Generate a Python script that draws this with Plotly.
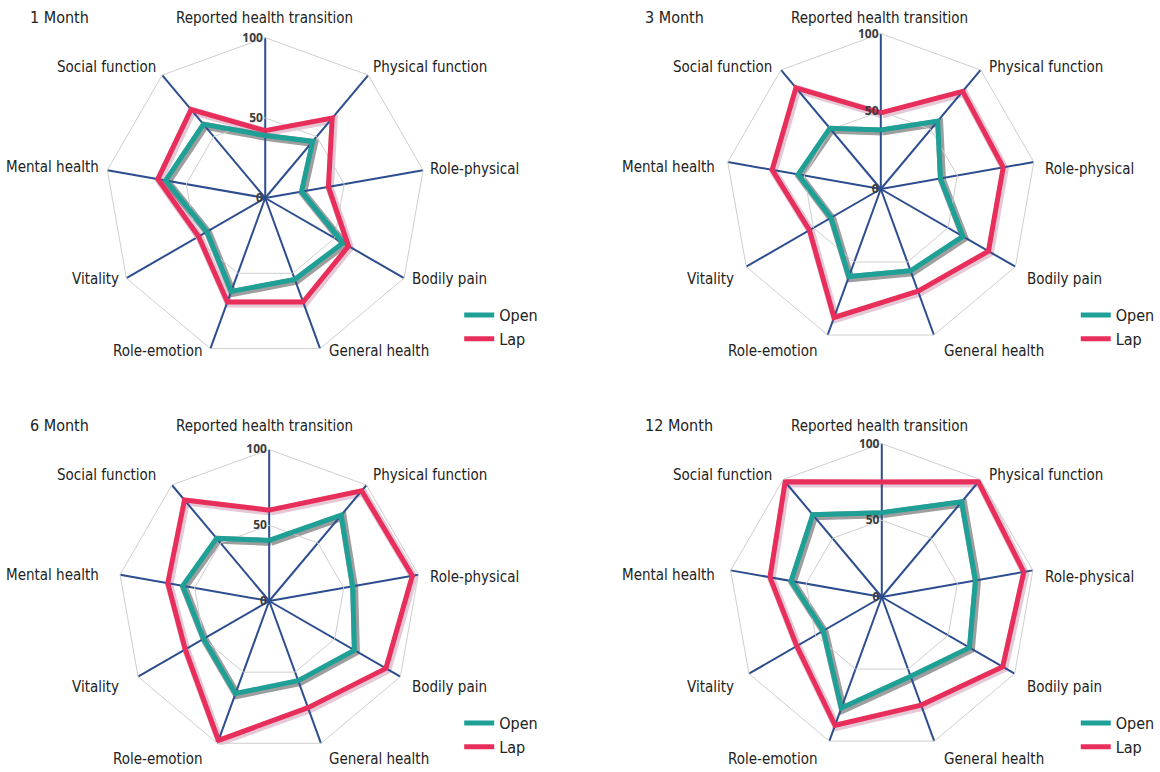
import plotly.graph_objects as go

# SF-36 domains, clockwise from the top
categories = ["Reported health transition", "Physical function", "Role-physical",
              "Bodily pain", "General health", "Role-emotion", "Vitality",
              "Mental health", "Social function"]

panel_titles = ["1 Month", "3 Month", "6 Month", "12 Month"]
series_names = ["Open", "Lap"]

open_1m = [39, 46, 23, 56, 54, 62, 42, 63, 60]
lap_1m = [42, 65, 40, 60, 69, 69, 48, 68, 72]
open_3m = [38, 57, 39, 61, 56, 60, 37, 54, 51]
lap_3m = [49, 82, 80, 80, 70, 88, 53, 71, 85]
open_6m = [40, 74, 56, 65, 56, 65, 50, 58, 54]
lap_6m = [60, 95, 96, 89, 75, 98, 64, 68, 87]
open_12m = [55, 81, 62, 66, 55, 77, 44, 60, 70]
lap_12m = [75, 98, 94, 91, 75, 89, 64, 74, 98]

radial_ticks = [0, 50, 100]

W, H = 1160, 772
FONT = "DejaVu Sans Condensed, Liberation Sans Narrow, sans-serif"
TEAL = "#1fa097"
RED = "#e82f5b"
SPOKE = "#2c4d8e"
GRID = "#cfcfcf"
TEXT = "#222222"

# panel geometry in pixels: centre x, centre y, outer radius
panels = [(268, 198, 162), (890, 189, 157), (272, 601, 153), (891, 597, 155)]
# drop-shadow offset in pixels
SHADOW_DX, SHADOW_DY = 1.5, 1.5
# legend anchor (left, top) in pixels for each panel
legend_pos = [(464, 298), (1087, 298), (464, 706), (1087, 706)]
# panel origin (left column / right column, top row / bottom row) for text
col_x = [0, 622]
row_y = [0, 408]
title_pos = (28, 18)
# domain label placement inside a panel cell: (x, y, xanchor)
label_place = [(267, 18, "center"), (375, 67, "left"), (432, 169, "left"),
               (414, 279, "left"), (330, 351, "left"), (206, 351, "right"),
               (122, 279, "right"), (102, 167, "right"), (160, 67, "right")]

data = [(open_1m, lap_1m), (open_3m, lap_3m), (open_6m, lap_6m), (open_12m, lap_12m)]


def closed(vals):
    return list(vals) + [vals[0]]


def domain(cx, cy, r):
    return dict(x=[(cx - r) / W, (cx + r) / W], y=[1 - (cy + r) / H, 1 - (cy - r) / H])


theta = closed(categories)
angular_common = dict(type="category", categoryarray=categories,
                      direction="clockwise", rotation=90)

fig = go.Figure()
layout = {}
n = len(panels)
for i, ((cx, cy, r), (op, lp)) in enumerate(zip(panels, data)):
    sid = "polar" if i == 0 else f"polar{i + 1}"      # shadow layer, drawn first
    pid = f"polar{i + 1 + n}"                          # main chart layer
    lid = "legend" if i == 0 else f"legend{i + 1}"

    for vals, color, name, shadow, sw in [
            (op, TEAL, series_names[0], "rgba(0,0,0,0.38)", 8),
            (lp, RED, series_names[1], "rgba(150,30,90,0.25)", 8)]:
        fig.add_trace(go.Scatterpolar(
            r=closed(vals), theta=theta, mode="lines", subplot=sid,
            line=dict(color=shadow, width=sw), showlegend=False, hoverinfo="skip"))
        fig.add_trace(go.Scatterpolar(
            r=closed(vals), theta=theta, mode="lines", subplot=pid, name=name,
            line=dict(color=color, width=5), legend=lid))

    layout[sid] = dict(
        domain=domain(cx + SHADOW_DX, cy + SHADOW_DY, r),
        gridshape="linear", bgcolor="rgba(0,0,0,0)",
        radialaxis=dict(range=[0, 100], visible=False),
        angularaxis=dict(visible=False, **angular_common),
    )
    layout[pid] = dict(
        domain=domain(cx, cy, r),
        gridshape="linear", bgcolor="rgba(0,0,0,0)",
        radialaxis=dict(range=[0, 100], tickvals=radial_ticks, angle=90,
                        tickangle=90, ticksuffix="\u00a0" * 6,
                        side="counterclockwise", showline=False, ticks="",
                        gridcolor=GRID, gridwidth=1,
                        tickfont=dict(family="Open Sans, sans-serif", size=12,
                                      color="#3a3a3a", weight="bold")),
        angularaxis=dict(showline=True, linecolor=GRID, linewidth=1,
                         gridcolor=SPOKE, gridwidth=1.6, ticks="",
                         showticklabels=False, **angular_common),
    )
    lx, ly = legend_pos[i]
    layout[lid] = dict(x=lx / W, y=1 - ly / H, xanchor="left", yanchor="top",
                       font=dict(family=FONT, size=16, color=TEXT),
                       bgcolor="rgba(0,0,0,0)", itemwidth=30, tracegroupgap=0)

annotations = []
for i, t in enumerate(panel_titles):
    ox, oy = col_x[i % 2], row_y[i // 2]
    annotations.append(dict(text=t, x=(ox + title_pos[0]) / W, y=1 - (oy + title_pos[1]) / H,
                            xref="paper", yref="paper", xanchor="left", yanchor="middle",
                            showarrow=False, font=dict(family=FONT, size=16, color=TEXT)))
    for cat, (lx, ly, anchor) in zip(categories, label_place):
        annotations.append(dict(text=cat, x=(ox + lx) / W, y=1 - (oy + ly) / H,
                                xref="paper", yref="paper", xanchor=anchor, yanchor="middle",
                                showarrow=False, font=dict(family=FONT, size=15, color=TEXT)))

fig.update_layout(width=W, height=H, margin=dict(l=0, r=0, t=0, b=0),
                  paper_bgcolor="white", plot_bgcolor="white",
                  annotations=annotations, **layout)

fig.write_html("out.html")
